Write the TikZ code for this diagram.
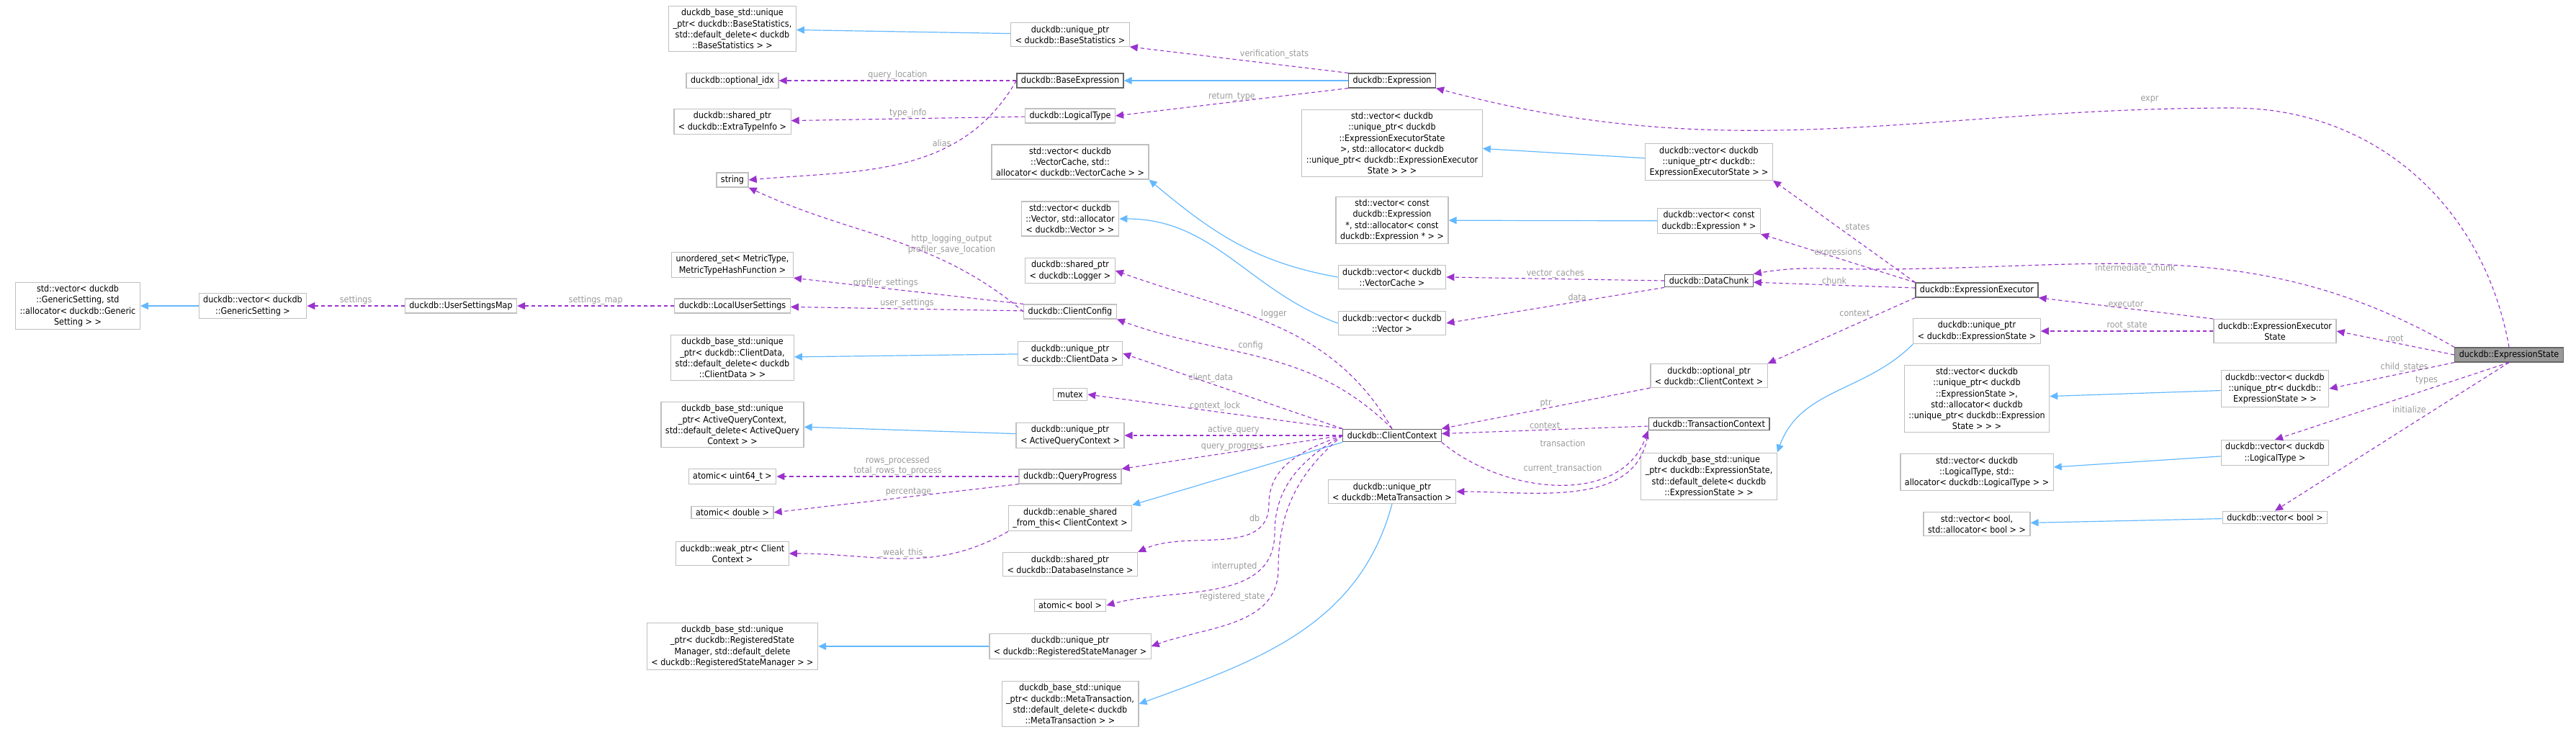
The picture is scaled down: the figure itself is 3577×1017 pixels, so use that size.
\documentclass[tikz,border=0pt]{standalone}
\usepackage{fontspec}
\setmainfont{DejaVu Sans Condensed}
\usetikzlibrary{arrows.meta}
\definecolor{usecol}{HTML}{9A32CD}
\definecolor{inhcol}{HTML}{63B8FF}
\definecolor{lblcol}{HTML}{9A9A9A}
\tikzset{
  cls/.style={draw=black!25, line width=0.3pt, fill=white, align=center, inner xsep=1.5pt, inner ysep=1pt, font=\fontsize{3.1}{3.8}\selectfont},
  key/.style={cls, draw=black!60},
  main/.style={cls, draw=black!60, fill=black!40},
  use/.style={usecol, dash pattern=on 1.3pt off 1pt, line width=0.28pt, -{Triangle[length=2.75pt,width=2.5pt]}},
  inh/.style={inhcol, line width=0.3pt, -{Triangle[length=2.75pt,width=2.5pt]}},
  lbl/.style={lblcol, font=\fontsize{3.1}{3.6}\selectfont, align=center, inner sep=0.25pt}
}
\begin{document}
\begin{tikzpicture}[x=0.25pt,y=-0.25pt]
\useasboundingbox (0,0) rectangle (3577,1017);
% column 1 and 2
\node[cls] (sgen) at (108,425) {std::vector< duckdb\\::GenericSetting, std\\::allocator< duckdb::Generic\\Setting > >};
\node[cls] (vgen) at (351,425) {duckdb::vector< duckdb\\::GenericSetting >};
\node[cls] (usm) at (640,425) {duckdb::UserSettingsMap};
% column 3
\node[cls] (bsstat) at (1017,40) {duckdb\_base\_std::unique\\\_ptr< duckdb::BaseStatistics,\\ std::default\_delete< duckdb\\::BaseStatistics > >};
\node[cls] (optidx) at (1017,112) {duckdb::optional\_idx};
\node[cls] (extra) at (1017,169) {duckdb::shared\_ptr\\< duckdb::ExtraTypeInfo >};
\node[cls] (str) at (1017,250) {string};
\node[cls] (uset) at (1017,368) {unordered\_set< MetricType,\\MetricTypeHashFunction >};
\node[cls] (lus) at (1017,425) {duckdb::LocalUserSettings};
\node[cls] (bscd) at (1017,497) {duckdb\_base\_std::unique\\\_ptr< duckdb::ClientData,\\ std::default\_delete< duckdb\\::ClientData > >};
\node[cls] (bsaq) at (1017,590) {duckdb\_base\_std::unique\\\_ptr< ActiveQueryContext,\\ std::default\_delete< ActiveQuery\\Context > >};
\node[cls] (au64) at (1017,662) {atomic< uint64\_t >};
\node[cls] (adbl) at (1017,712) {atomic< double >};
\node[cls] (weak) at (1017,769) {duckdb::weak\_ptr< Client\\Context >};
\node[cls] (bsrs) at (1017,898) {duckdb\_base\_std::unique\\\_ptr< duckdb::RegisteredState\\Manager, std::default\_delete\\< duckdb::RegisteredStateManager > >};
% column 4
\node[cls] (ubstat) at (1486,48) {duckdb::unique\_ptr\\< duckdb::BaseStatistics >};
\node[key] (bexpr) at (1486,112) {duckdb::BaseExpression};
\node[cls] (ltype) at (1486,161) {duckdb::LogicalType};
\node[cls] (svc) at (1486,225) {std::vector< duckdb\\::VectorCache, std::\\allocator< duckdb::VectorCache > >};
\node[cls] (svec) at (1486,304) {std::vector< duckdb\\::Vector, std::allocator\\< duckdb::Vector > >};
\node[cls] (logger) at (1486,376) {duckdb::shared\_ptr\\< duckdb::Logger >};
\node[cls] (ccfg) at (1486,433) {duckdb::ClientConfig};
\node[cls] (ucd) at (1486,491) {duckdb::unique\_ptr\\< duckdb::ClientData >};
\node[cls] (mutex) at (1486,548) {mutex};
\node[cls] (uaq) at (1486,605) {duckdb::unique\_ptr\\< ActiveQueryContext >};
\node[cls] (qp) at (1486,662) {duckdb::QueryProgress};
\node[cls] (esft) at (1486,720) {duckdb::enable\_shared\\\_from\_this< ClientContext >};
\node[cls] (sdb) at (1486,784) {duckdb::shared\_ptr\\< duckdb::DatabaseInstance >};
\node[cls] (abool) at (1486,841) {atomic< bool >};
\node[cls] (urs) at (1486,898) {duckdb::unique\_ptr\\< duckdb::RegisteredStateManager >};
\node[cls] (bsmt) at (1486,978) {duckdb\_base\_std::unique\\\_ptr< duckdb::MetaTransaction,\\ std::default\_delete< duckdb\\::MetaTransaction > >};
% column 5
\node[key] (expr) at (1933,112) {duckdb::Expression};
\node[cls] (sves) at (1933,199) {std::vector< duckdb\\::unique\_ptr< duckdb\\::ExpressionExecutorState\\ >, std::allocator< duckdb\\::unique\_ptr< duckdb::ExpressionExecutor\\State > > >};
\node[cls] (scex) at (1933,306) {std::vector< const\\ duckdb::Expression\\ *, std::allocator< const\\ duckdb::Expression * > >};
\node[cls] (vvc) at (1933,385) {duckdb::vector< duckdb\\::VectorCache >};
\node[cls] (vvec) at (1933,449) {duckdb::vector< duckdb\\::Vector >};
\node[key] (cctx) at (1933,605) {duckdb::ClientContext};
\node[cls] (umt) at (1933,683) {duckdb::unique\_ptr\\< duckdb::MetaTransaction >};
% column 6
\node[cls] (vues) at (2373,225) {duckdb::vector< duckdb\\::unique\_ptr< duckdb::\\ExpressionExecutorState > >};
\node[cls] (vcex) at (2373,307) {duckdb::vector< const\\ duckdb::Expression * >};
\node[key] (chunk) at (2373,390) {duckdb::DataChunk};
\node[cls] (octx) at (2373,522) {duckdb::optional\_ptr\\< duckdb::ClientContext >};
\node[key] (tctx) at (2373,589) {duckdb::TransactionContext};
\node[cls] (bses) at (2373,662) {duckdb\_base\_std::unique\\\_ptr< duckdb::ExpressionState,\\ std::default\_delete< duckdb\\::ExpressionState > >};
% column 7
\node[key] (exec) at (2745,403) {duckdb::ExpressionExecutor};
\node[cls] (ues) at (2745,460) {duckdb::unique\_ptr\\< duckdb::ExpressionState >};
\node[cls] (sues) at (2745,554) {std::vector< duckdb\\::unique\_ptr< duckdb\\::ExpressionState >,\\ std::allocator< duckdb\\::unique\_ptr< duckdb::Expression\\State > > >};
\node[cls] (slt) at (2745,656) {std::vector< duckdb\\::LogicalType, std::\\allocator< duckdb::LogicalType > >};
\node[cls] (sbool) at (2745,728) {std::vector< bool,\\ std::allocator< bool > >};
% column 8
\node[cls] (xstate) at (3159,460) {duckdb::ExpressionExecutor\\State};
\node[cls] (vues2) at (3159,540) {duckdb::vector< duckdb\\::unique\_ptr< duckdb::\\ExpressionState > >};
\node[cls] (vlt) at (3159,629) {duckdb::vector< duckdb\\::LogicalType >};
\node[cls] (vbool) at (3159,719) {duckdb::vector< bool >};
\node[main] (estate) at (3484,493) {duckdb::ExpressionState};

% inheritance
\draw[inh] (vgen) -- (sgen);
\draw[inh] (ubstat) -- (bsstat);
\draw[inh] (expr) -- (bexpr);
\draw[inh] (ucd) -- (bscd);
\draw[inh] (uaq) -- (bsaq);
\draw[inh] (urs) -- (bsrs);
\draw[inh] (cctx.south west) -- (esft.north east);
\draw[inh] (umt.south) to[out=-105,in=20] (bsmt.east);
\draw[inh] (vvc.west) to[out=170,in=-40] (svc.south east);
\draw[inh] (vvec.west) to[out=160,in=0] (svec.east);
\draw[inh] (vues) -- (sves);
\draw[inh] (vcex) -- (scex);
\draw[inh] (ues.south west) to[out=-135,in=70] (bses.north east);
\draw[inh] (vues2) -- (sues);
\draw[inh] (vlt) -- (slt);
\draw[inh] (vbool) -- (sbool);

% members
\draw[use] (usm) -- node[lbl,above]{settings} (vgen);
\draw[use] (lus) -- node[lbl,above]{settings\_map} (usm);
\draw[use] (expr.north west) -- node[lbl,above right]{verification\_stats} (ubstat.south east);
\draw[use] (bexpr) -- node[lbl,above]{query\_location} (optidx);
\draw[use] (ltype) -- node[lbl,above]{type\_info} (extra);
\draw[use] (bexpr.west) to[out=-120,in=5] node[lbl,pos=0.3,left=1pt]{alias} (str.east);
\draw[use] (ccfg.west) to[out=140,in=-25] node[lbl,pos=0.45,right=0.5pt]{http\_logging\_output\\profiler\_save\_location} (str.south east);
\draw[use] (expr.south west) -- node[lbl,above]{return\_type} (ltype.east);
\draw[use] (ccfg.north west) -- node[lbl,above,pos=0.6]{profiler\_settings} (uset.south east);
\draw[use] (ccfg) -- node[lbl,above]{user\_settings} (lus);
\draw[use] (cctx.north) to[out=120,in=-20] node[lbl,pos=0.55,above right]{logger} (logger.east);
\draw[use] (cctx.north) to[out=135,in=-20] node[lbl,pos=0.6,above right]{config} (ccfg.south east);
\draw[use] (cctx.north west) -- node[lbl,above,pos=0.6]{client\_data} (ucd.east);
\draw[use] (cctx.north west) -- node[lbl,above,pos=0.5]{context\_lock} (mutex.east);
\draw[use] (cctx) -- node[lbl,above]{active\_query} (uaq);
\draw[use] (cctx.west) -- node[lbl,above,pos=0.5]{query\_progress} (qp.north east);
\draw[use] (qp) -- node[lbl,above]{rows\_processed\\total\_rows\_to\_process} (au64);
\draw[use] (qp.south west) -- node[lbl,above,pos=0.45]{percentage} (adbl.east);
\draw[use] (esft.south west) to[out=-150,in=0] node[lbl,above,pos=0.5]{\_weak\_this\_} (weak.east);
\draw[use] (cctx.west) to[out=-160,in=90] (1762,700) to[out=-90,in=25] node[lbl,pos=0.1,left=2pt]{db} (sdb.north east);
\draw[use] (cctx.west) to[out=-150,in=90] (1770,740) to[out=-90,in=15] node[lbl,pos=0.25,above left]{interrupted} (abool.east);
\draw[use] (cctx.west) to[out=-140,in=90] (1775,790) to[out=-90,in=20] node[lbl,pos=0.2,left=1.5pt]{registered\_state} (urs.east);
\draw[use] (chunk.west) -- node[lbl,above]{vector\_caches} (vvc.east);
\draw[use] (chunk.south west) -- node[lbl,above,pos=0.4]{data} (vvec.east);
\draw[use] (octx.south west) -- node[lbl,above,pos=0.5]{ptr} (cctx.north east);
\draw[use] (tctx) -- node[lbl,above]{context} (cctx);
\draw[use] (cctx.south east) to[out=-40,in=-110] (tctx.south west);
\node[lbl] (transl) at (2170,616) {transaction};
\draw[use] (tctx.south west) to[out=-95,in=0] (umt.east);
\node[lbl] (curtl) at (2170,651) {current\_transaction};
\draw[use] (exec.north west) -- node[lbl,above right,pos=0.5]{states} (vues.south east);
\draw[use] (exec.north west) -- node[lbl,above,pos=0.5]{expressions} (vcex.south east);
\draw[use] (exec) -- node[lbl,above]{chunk} (chunk);
\draw[use] (estate.north west) to[out=150,in=0] (2600,374) to[out=180,in=10] (chunk.north east);
\node[lbl] (ichunk) at (2965,373) {intermediate\_chunk};
\draw[use] (exec.south west) -- node[lbl,above left,pos=0.3]{context} (octx.north east);
\draw[use] (xstate.north west) -- node[lbl,above]{executor} (exec.south east);
\draw[use] (xstate) -- node[lbl,above]{root\_state} (ues);
\draw[use] (estate.west) -- node[lbl,above]{root} (xstate.east);
\draw[use] (estate.south west) -- node[lbl,above,pos=0.4]{child\_states} (vues2.east);
\draw[use] (estate.south) -- node[lbl,above left,pos=0.3]{types} (vlt.north);
\draw[use] (estate.south) -- node[lbl,above left,pos=0.35]{initialize} (vbool.north);
\draw[use] (estate.north) to[out=100,in=0] (3100,150) to[out=180,in=-15] (expr.south east);
\node[lbl] (exprl) at (2985,138) {expr};
\end{tikzpicture}
\end{document}
